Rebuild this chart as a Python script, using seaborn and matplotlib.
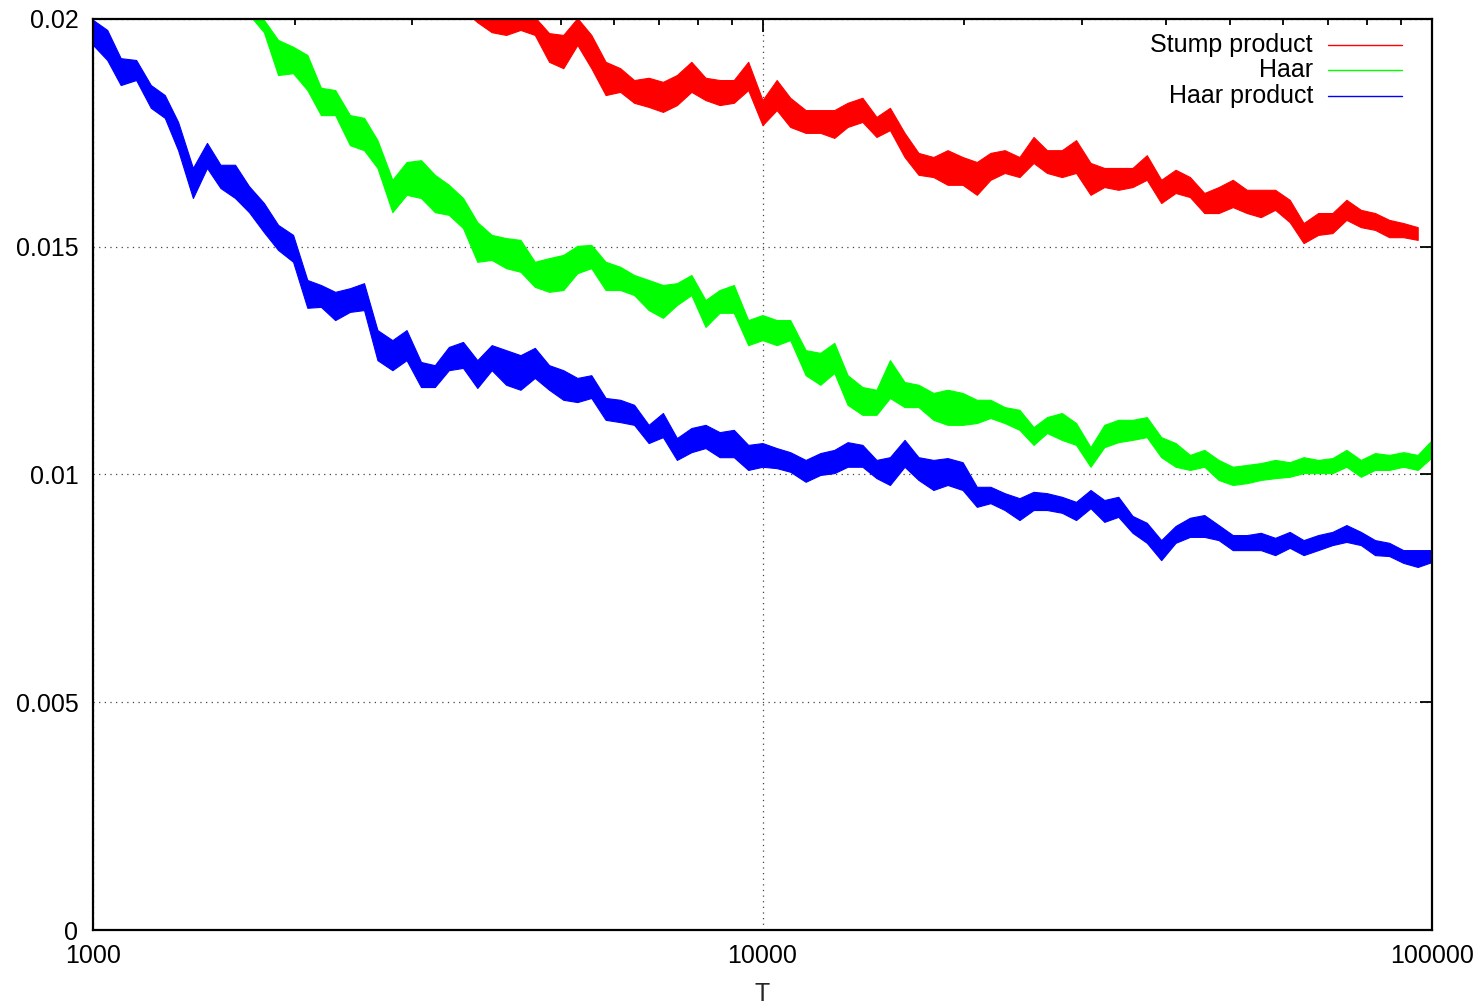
import matplotlib
matplotlib.use("Agg")
import matplotlib.pyplot as plt
from matplotlib.lines import Line2D
from matplotlib.ticker import FixedLocator, FixedFormatter, NullFormatter
import pandas as pd
import seaborn as sns

sns.set_style("white")
plt.rcParams["font.family"] = ["Liberation Sans", "DejaVu Sans"]

# Number of rounds T (log-spaced sample points)
T = [1000, 1050, 1100, 1160, 1220, 1280, 1340, 1410, 1480, 1550,
     1630, 1710, 1800, 1890, 1990, 2090, 2190, 2300, 2420, 2540,
     2660, 2800, 2940, 3090, 3240, 3400, 3570, 3750, 3940, 4140,
     4350, 4570, 4800, 5040, 5290, 5550, 5830, 6130, 6430, 6760,
     7100, 7450, 7830, 8220, 8630, 9060, 9520, 10000,
     10500, 11000, 11600, 12200, 12800, 13400, 14100, 14800, 15500, 16300,
     17100, 18000, 18900, 19900, 20900, 21900, 23000, 24200, 25400, 26600,
     28000, 29400, 30900, 32400, 34000, 35700, 37500, 39400, 41400, 43500,
     45700, 48000, 50400, 52900, 55500, 58300, 61300, 64300, 67600, 71000,
     74500, 78300, 82200, 86300, 90600, 95200, 100000]

# Per-window upper / lower extent of the test error for each learner
stump_start = 25
stump_hi = [0.0212, 0.0206, 0.02009, 0.02009, 0.02009,
            0.02009, 0.02004, 0.01969, 0.01965, 0.02002, 0.01965, 0.01906, 0.01892, 0.01866, 0.01871,
            0.01862, 0.01877, 0.01906, 0.01871, 0.01866, 0.01866, 0.01906, 0.01822, 0.01866, 0.01827,
            0.01800, 0.01800, 0.01800, 0.01816, 0.01827, 0.01785, 0.01805, 0.01750, 0.01706, 0.01697,
            0.01712, 0.01697, 0.01686, 0.01706, 0.01712, 0.01697, 0.01741, 0.01712, 0.01712, 0.01734,
            0.01684, 0.01673, 0.01673, 0.01673, 0.01701, 0.01647, 0.01669, 0.01653, 0.01618, 0.01631,
            0.01647, 0.01625, 0.01625, 0.01625, 0.01603, 0.01552, 0.01574, 0.01574, 0.01603, 0.01581,
            0.01574, 0.01559, 0.01552, 0.01543]
stump_lo = [0.0208, 0.0202, 0.01993, 0.01971, 0.01965,
            0.01976, 0.01965, 0.01906, 0.01892, 0.01943, 0.01892, 0.01833, 0.01840, 0.01816, 0.01807,
            0.01796, 0.01811, 0.01840, 0.01822, 0.01811, 0.01816, 0.01844, 0.01767, 0.01800, 0.01763,
            0.01750, 0.01750, 0.01739, 0.01763, 0.01774, 0.01741, 0.01756, 0.01697, 0.01658, 0.01653,
            0.01636, 0.01636, 0.01614, 0.01647, 0.01662, 0.01653, 0.01684, 0.01662, 0.01653, 0.01662,
            0.01614, 0.01631, 0.01625, 0.01631, 0.01647, 0.01596, 0.01618, 0.01609, 0.01574, 0.01574,
            0.01587, 0.01574, 0.01565, 0.01581, 0.01554, 0.01508, 0.01526, 0.01530, 0.01559, 0.01543,
            0.01537, 0.01521, 0.01521, 0.01515]

haar_start = 10
haar_hi = [0.0208, 0.0204, 0.01998, 0.01954, 0.01939, 0.01921, 0.01849, 0.01844, 0.01789, 0.01783,
           0.01734, 0.01647, 0.01686, 0.01690, 0.01658, 0.01636, 0.01607, 0.01554, 0.01526, 0.01519,
           0.01515, 0.01467, 0.01475, 0.01482, 0.01502, 0.01504, 0.01467, 0.01456, 0.01438, 0.01427,
           0.01416, 0.01420, 0.01438, 0.01383, 0.01405, 0.01416, 0.01339, 0.01350, 0.01339, 0.01339,
           0.01273, 0.01267, 0.01289, 0.01218, 0.01192, 0.01186, 0.01251, 0.01203, 0.01197, 0.01179,
           0.01186, 0.01179, 0.01164, 0.01164, 0.01148, 0.01142, 0.01104, 0.01126, 0.01135, 0.01113,
           0.01060, 0.01109, 0.01120, 0.01120, 0.01126, 0.01082, 0.01069, 0.01043, 0.01054, 0.01032,
           0.01017, 0.01021, 0.01025, 0.01032, 0.01027, 0.01038, 0.01032, 0.01036, 0.01054, 0.01032,
           0.01047, 0.01043, 0.01049, 0.01043, 0.01076]
haar_lo = [0.0205, 0.0201, 0.01971, 0.01877, 0.01881, 0.01844, 0.01789, 0.01789, 0.01723, 0.01712,
           0.01673, 0.01576, 0.01614, 0.01607, 0.01576, 0.01570, 0.01541, 0.01467, 0.01471, 0.01453,
           0.01445, 0.01412, 0.01401, 0.01405, 0.01442, 0.01453, 0.01405, 0.01405, 0.01394, 0.01361,
           0.01344, 0.01372, 0.01394, 0.01324, 0.01355, 0.01355, 0.01284, 0.01295, 0.01284, 0.01295,
           0.01218, 0.01197, 0.01223, 0.01153, 0.01131, 0.01131, 0.01168, 0.01148, 0.01148, 0.01120,
           0.01109, 0.01109, 0.01113, 0.01124, 0.01113, 0.01098, 0.01065, 0.01091, 0.01076, 0.01065,
           0.01017, 0.01060, 0.01071, 0.01076, 0.01082, 0.01038, 0.01017, 0.01010, 0.01017, 0.00988,
           0.00977, 0.00981, 0.00988, 0.00992, 0.00995, 0.01003, 0.01003, 0.01003, 0.01017, 0.00995,
           0.01010, 0.01010, 0.01017, 0.01010, 0.01038]

haarprod_start = 0
haarprod_hi = [0.01998, 0.01976, 0.01914, 0.01910, 0.01855, 0.01833, 0.01774, 0.01673, 0.01728, 0.01680,
               0.01680, 0.01633, 0.01596, 0.01548, 0.01526, 0.01427, 0.01416, 0.01401, 0.01409, 0.01420,
               0.01317, 0.01295, 0.01317, 0.01247, 0.01240, 0.01280, 0.01291, 0.01251, 0.01284, 0.01273,
               0.01262, 0.01278, 0.01240, 0.01229, 0.01212, 0.01218, 0.01168, 0.01164, 0.01153, 0.01109,
               0.01135, 0.01080, 0.01102, 0.01109, 0.01093, 0.01098, 0.01065, 0.01069, 0.01058, 0.01049,
               0.01032, 0.01047, 0.01054, 0.01071, 0.01065, 0.01032, 0.01038, 0.01076, 0.01038, 0.01032,
               0.01036, 0.01027, 0.00973, 0.00973, 0.00959, 0.00948, 0.00962, 0.00959, 0.00951, 0.00940,
               0.00966, 0.00944, 0.00951, 0.00909, 0.00894, 0.00856, 0.00887, 0.00905, 0.00911, 0.00889,
               0.00867, 0.00867, 0.00872, 0.00861, 0.00874, 0.00856, 0.00867, 0.00874, 0.00889, 0.00874,
               0.00856, 0.00850, 0.00834, 0.00834, 0.00834]
haarprod_lo = [0.01943, 0.01910, 0.01855, 0.01866, 0.01805, 0.01783, 0.01712, 0.01607, 0.01673, 0.01629,
               0.01607, 0.01576, 0.01532, 0.01493, 0.01467, 0.01366, 0.01368, 0.01339, 0.01357, 0.01361,
               0.01251, 0.01229, 0.01251, 0.01192, 0.01192, 0.01229, 0.01234, 0.01190, 0.01229, 0.01197,
               0.01186, 0.01212, 0.01186, 0.01164, 0.01159, 0.01168, 0.01120, 0.01115, 0.01109, 0.01069,
               0.01082, 0.01032, 0.01049, 0.01058, 0.01038, 0.01038, 0.01010, 0.01017, 0.01014, 0.01006,
               0.00984, 0.00999, 0.01003, 0.01017, 0.01017, 0.00992, 0.00977, 0.01017, 0.00988, 0.00966,
               0.00977, 0.00966, 0.00929, 0.00937, 0.00922, 0.00900, 0.00922, 0.00922, 0.00916, 0.00900,
               0.00926, 0.00896, 0.00907, 0.00872, 0.00850, 0.00812, 0.00850, 0.00863, 0.00863, 0.00856,
               0.00834, 0.00834, 0.00834, 0.00823, 0.00839, 0.00823, 0.00834, 0.00845, 0.00852, 0.00845,
               0.00823, 0.00821, 0.00806, 0.00797, 0.00808]

series_names = ["Stump product", "Haar", "Haar product"]
series_colors = ["#ff0000", "#00ff00", "#0000ff"]

x_ticks = [1000, 10000, 100000]
x_tick_labels = ["1000", "10000", "100000"]
x_minor = [2000, 3000, 4000, 5000, 6000, 7000, 8000, 9000,
           20000, 30000, 40000, 50000, 60000, 70000, 80000, 90000]
y_ticks = [0, 0.005, 0.01, 0.015, 0.02]
y_tick_labels = ["0", "0.005", "0.01", "0.015", "0.02"]

# Long-form table: every T carries the upper and lower extent of its window
frames = []
for name, start, hi, lo in [
    ("Stump product", stump_start, stump_hi, stump_lo),
    ("Haar", haar_start, haar_hi, haar_lo),
    ("Haar product", haarprod_start, haarprod_hi, haarprod_lo),
]:
    t = T[start:start + len(hi)]
    frames.append(pd.DataFrame({"T": t + t, "error": hi + lo, "series": name}))
df = pd.concat(frames, ignore_index=True)

fig = plt.figure(figsize=(14.81, 10.05), dpi=100)
ax = fig.add_axes([93 / 1481, 1 - 930 / 1005, 1339 / 1481, 911 / 1005])
ax.set_xscale("log")

sns.lineplot(
    data=df, x="T", y="error", hue="series",
    hue_order=series_names, palette=dict(zip(series_names, series_colors)),
    estimator="mean", errorbar=("pi", 100),
    err_kws={"alpha": 1.0, "linewidth": 0.8},
    linewidth=0.8, legend=False, ax=ax,
)

ax.set_xlim(1000, 100000)
ax.set_ylim(0, 0.02)

ax.xaxis.set_major_locator(FixedLocator(x_ticks))
ax.xaxis.set_major_formatter(FixedFormatter(x_tick_labels))
ax.xaxis.set_minor_locator(FixedLocator(x_minor))
ax.xaxis.set_minor_formatter(NullFormatter())
ax.yaxis.set_major_locator(FixedLocator(y_ticks))
ax.yaxis.set_major_formatter(FixedFormatter(y_tick_labels))

ax.tick_params(which="both", direction="in", top=True, right=True,
               colors="black", labelsize=18, width=1.3)
ax.tick_params(which="major", length=9)
ax.tick_params(which="minor", length=4.5)
ax.tick_params(axis="y", pad=10.5)
ax.tick_params(axis="x", pad=10)

ax.grid(True, which="major", color="#444444", linestyle=(0, (1, 3.5)), linewidth=0.9)
for side in ax.spines.values():
    side.set_color("black")
    side.set_linewidth(1.6)

ax.set_xlabel("T", fontsize=18, labelpad=10)
ax.set_ylabel("")

# Key in the upper right: labels right-aligned, sample lines to their right
key_rows = [0.9715, 0.9440, 0.9155]
for name, color, yk in zip(series_names, series_colors, key_rows):
    ax.text(0.9111, yk, name, transform=ax.transAxes, ha="right", va="center",
            fontsize=18, color="black")
    ax.add_line(Line2D([0.9223, 0.9776], [yk, yk], transform=ax.transAxes,
                       color=color, linewidth=1.0))

fig.savefig("out.png", dpi=100, facecolor="white")
